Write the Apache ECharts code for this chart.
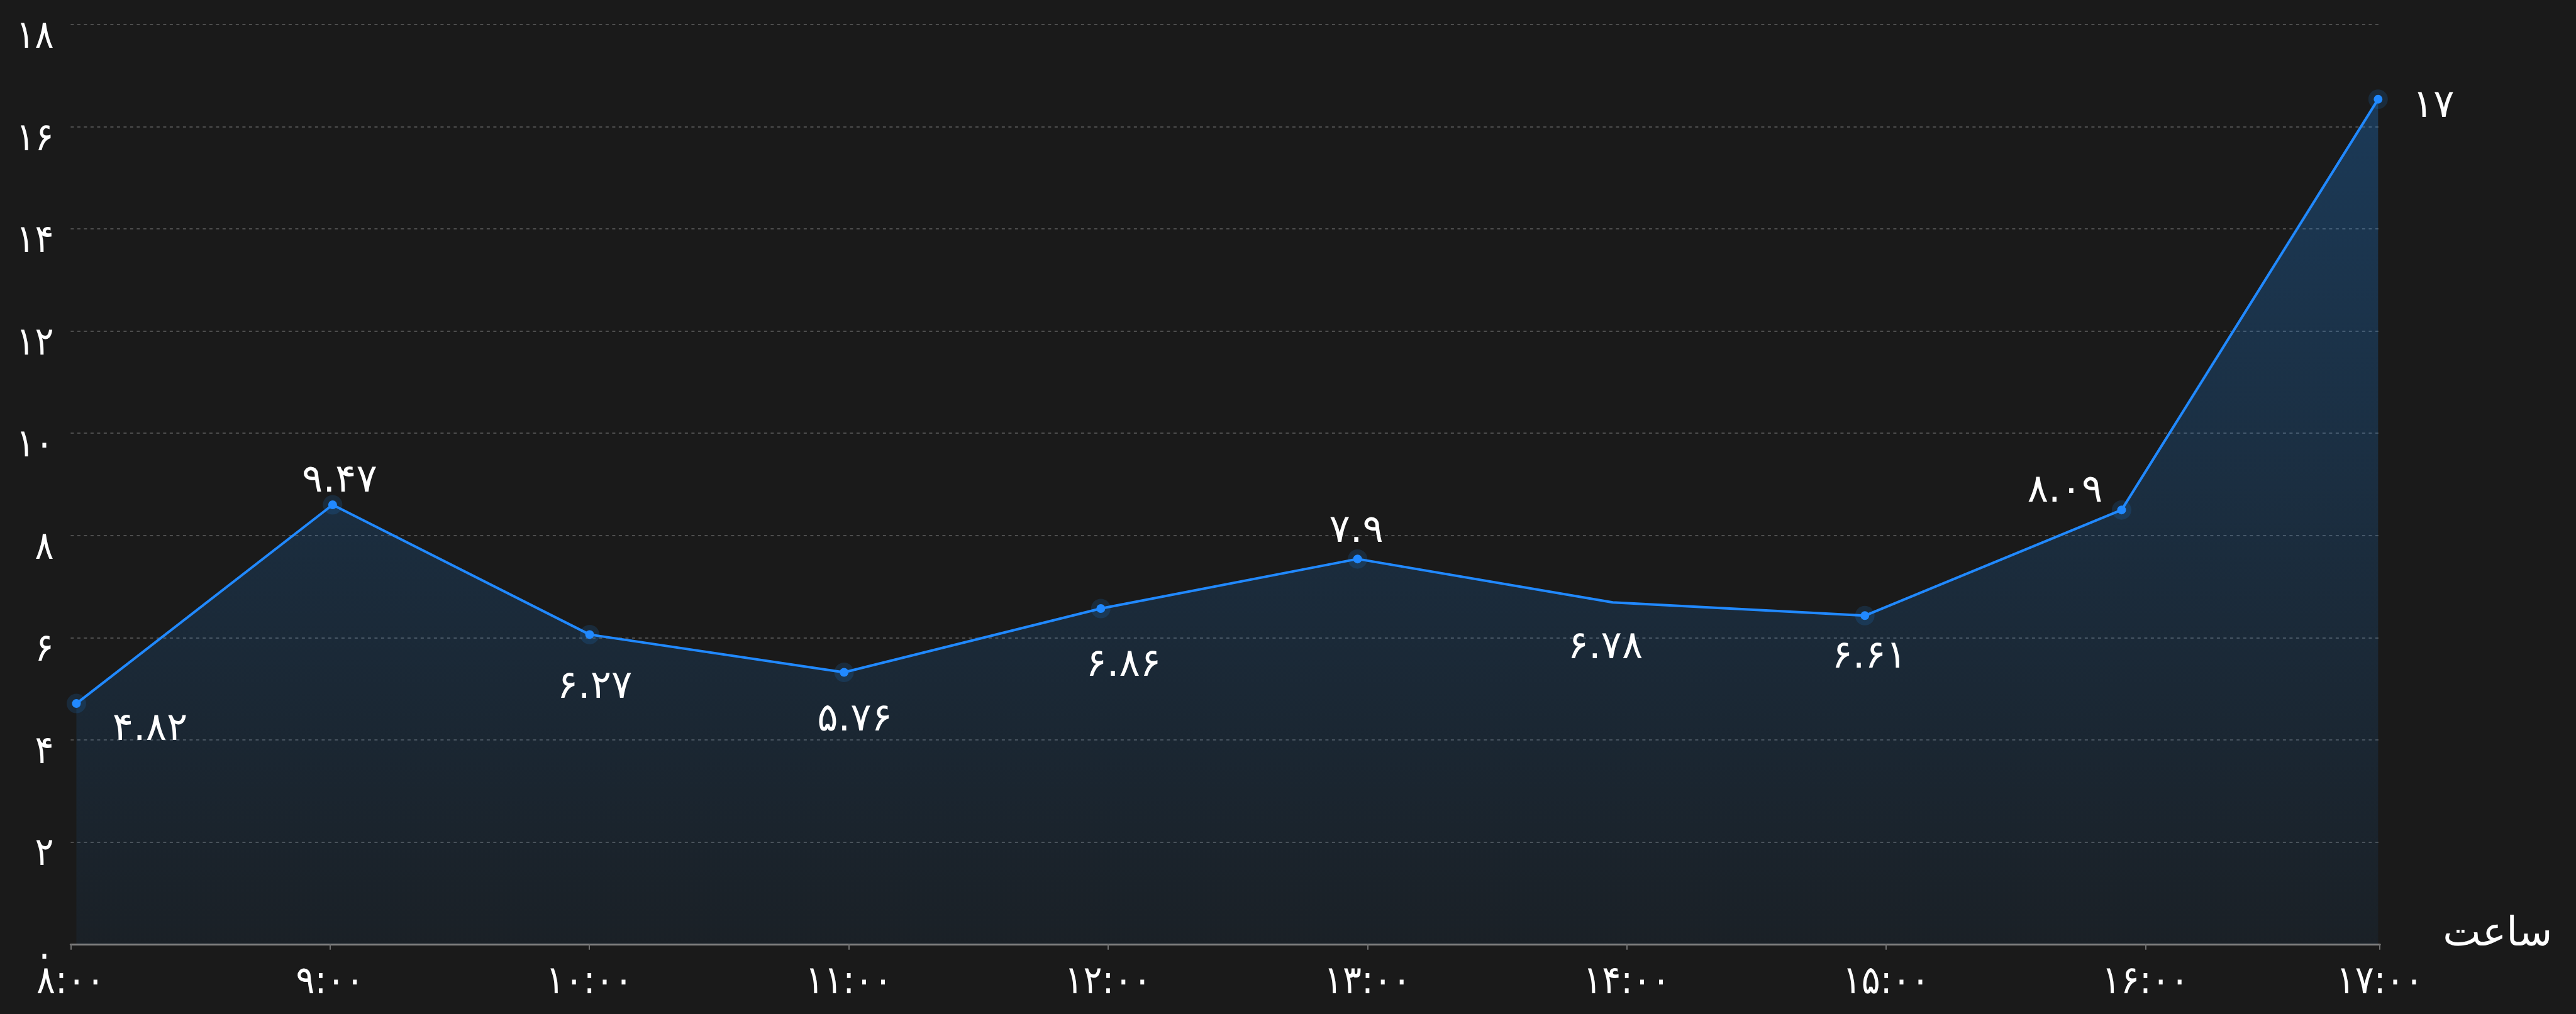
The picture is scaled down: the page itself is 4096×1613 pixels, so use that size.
<!DOCTYPE html>
<html>
<head>
<meta charset="utf-8">
<script src="https://cdn.jsdelivr.net/npm/echarts@6/dist/echarts.min.js"></script>
<style>
  html, body { margin: 0; padding: 0; background: #1a1a1a; }
  #chart { width: 4096px; height: 1613px; }
</style>
</head>
<body>
<div id="chart"></div>
<script>
// hours of each reading (x) and plotted height (y)
const hours = [8.022, 9.010, 10.001, 10.982, 11.972, 12.962, 13.946, 14.918, 15.908, 16.897];
const values = [4.71, 8.60, 6.06, 5.32, 6.57, 7.54, 6.69, 6.43, 8.50, 16.54];
// numbers written next to the points
const labelValues = [4.82, 9.47, 6.27, 5.76, 6.86, 7.9, 6.78, 6.61, 8.09, 17];
const tickHours = [8, 9, 10, 11, 12, 13, 14, 15, 16, 16.904];
const tickLabels = ['۸:۰۰', '۹:۰۰', '۱۰:۰۰', '۱۱:۰۰', '۱۲:۰۰', '۱۳:۰۰', '۱۴:۰۰', '۱۵:۰۰', '۱۶:۰۰', '۱۷:۰۰'];

// where each value label sits relative to its point
const labelOffsets = [[117, 42], [11, -37], [8, 84], [17, 76], [36, 91], [-2, -43], [-12, 73], [7, 67], [-90, -29], [88, 12]];
const noSymbol = [6];

const FONT = "'DejaVu Sans Condensed', 'DejaVu Sans', sans-serif";
const FS = 62;

function toFa(v) {
  return String(v).replace(/\d/g, d => '۰۱۲۳۴۵۶۷۸۹'[d]);
}

const points = hours.map((h, i) => {
  const item = { value: [h, values[i]], label: { offset: labelOffsets[i] } };
  if (noSymbol.indexOf(i) >= 0) item.symbolSize = 0;
  return item;
});
const halo = hours
  .map((h, i) => [h, values[i]])
  .filter((p, i) => noSymbol.indexOf(i) < 0);

const chart = echarts.init(document.getElementById('chart'));
chart.setOption({
  backgroundColor: '#1a1a1a',
  animation: false,
  textStyle: { fontFamily: FONT },
  grid: { left: 112.4, right: 311.8, top: 39.2, bottom: 111.2, containLabel: false },
  xAxis: {
    type: 'value',
    min: 8,
    max: 16.904,
    name: 'ساعت',
    nameLocation: 'end',
    nameGap: 100,
    nameTextStyle: { color: '#ffffff', fontSize: 64, fontFamily: "'DejaVu Sans', sans-serif", verticalAlign: 'bottom', lineHeight: 28 },
    axisLine: { show: true, lineStyle: { color: '#808080', width: 3 } },
    axisTick: { show: true, length: 9, customValues: tickHours, lineStyle: { color: '#707070', width: 2 } },
    axisLabel: {
      customValues: tickHours,
      color: '#ffffff',
      fontSize: FS,
      margin: 31,
      formatter: (v) => tickLabels[tickHours.indexOf(v)]
    },
    splitLine: { show: false }
  },
  yAxis: {
    type: 'value',
    min: 0,
    max: 18,
    interval: 2,
    axisLine: { show: false },
    axisTick: { show: false },
    axisLabel: { color: '#ffffff', fontSize: FS, margin: 27, verticalAlign: 'top', lineHeight: 42, formatter: (v) => toFa(v) },
    splitLine: { lineStyle: { color: '#4d4d4d', width: 2, type: [5, 5.5] } }
  },
  series: [
    {
      type: 'scatter',
      data: halo,
      symbolSize: 31,
      itemStyle: { color: 'rgba(30,144,255,0.18)' },
      silent: true,
      z: 1
    },
    {
      type: 'line',
      data: points,
      symbol: 'circle',
      symbolSize: 14,
      lineStyle: { color: '#2189ff', width: 4 },
      itemStyle: { color: '#2189ff' },
      areaStyle: {
        color: new echarts.graphic.LinearGradient(0, 0, 0, 1, [
          { offset: 0, color: 'rgba(30,144,255,0.38)' },
          { offset: 1, color: 'rgba(30,144,255,0.08)' }
        ])
      },
      label: {
        show: true,
        position: 'inside',
        color: '#ffffff',
        fontSize: FS,
        fontFamily: "'DejaVu Sans', sans-serif",
        formatter: (p) => toFa(labelValues[p.dataIndex])
      },
      z: 2
    }
  ]
});
window.addEventListener('resize', function () {
  chart.resize();
});
</script>
</body>
</html>
